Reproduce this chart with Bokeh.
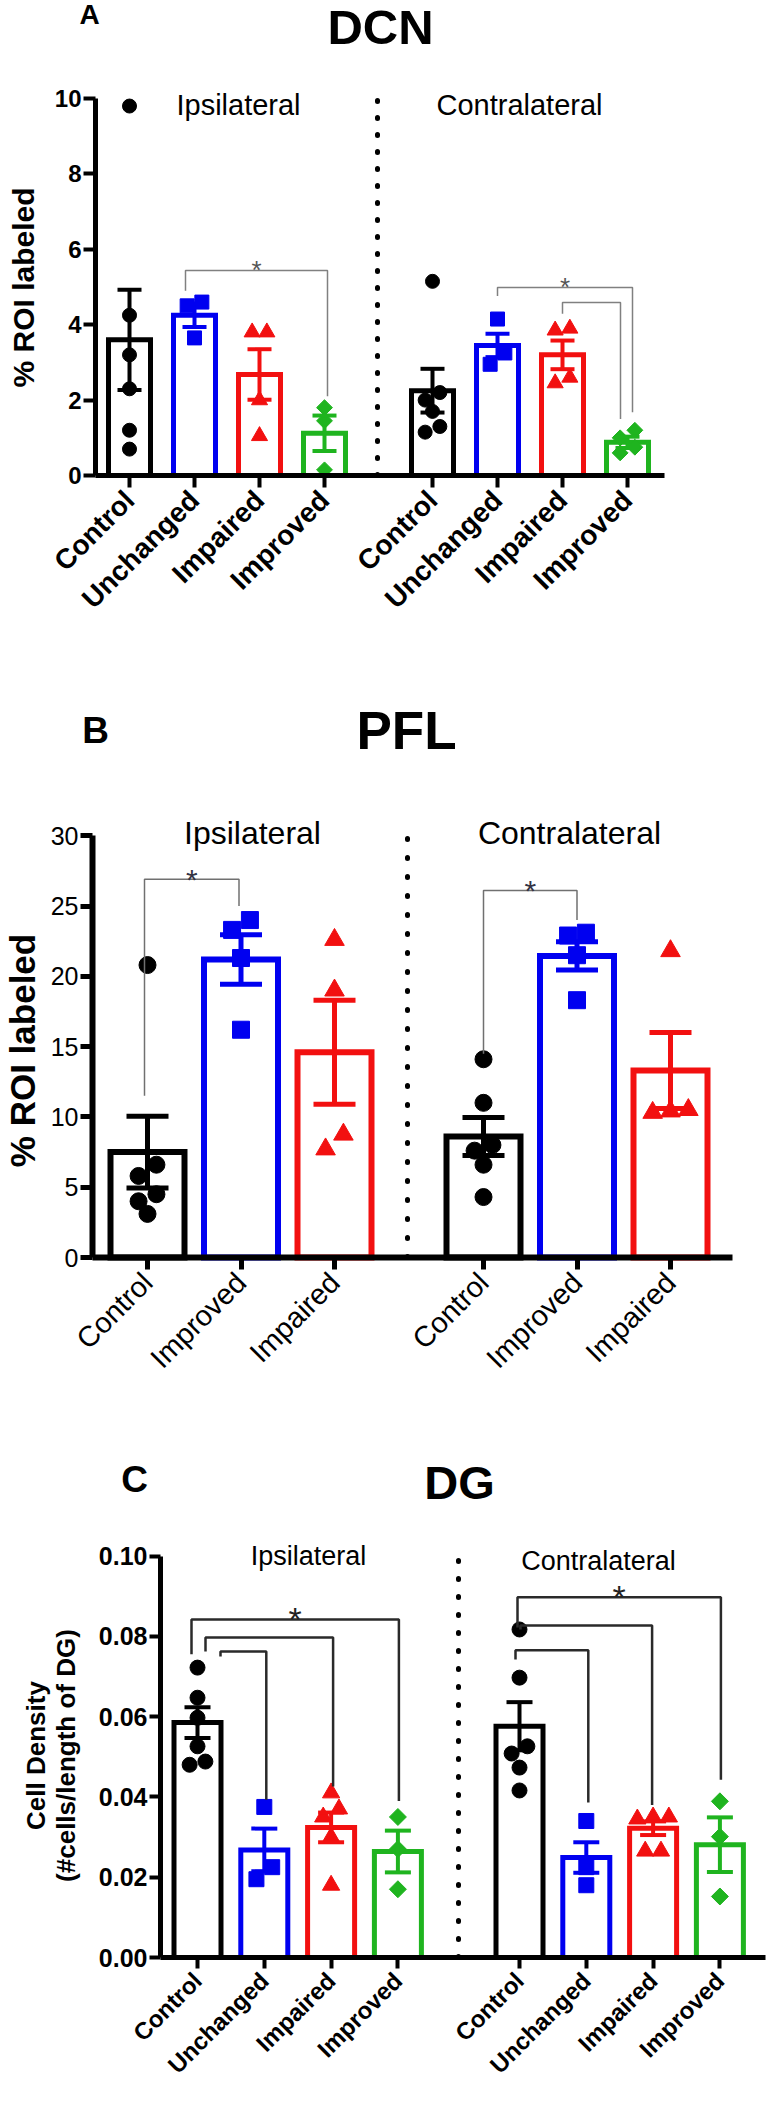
import math
from bokeh.plotting import figure
from bokeh.models import (Range1d, FixedTicker, Label, Whisker, TeeHead,
                          ColumnDataSource, CustomJSTickFormatter, NumeralTickFormatter)
from bokeh.layouts import column
from bokeh.embed import file_html
from bokeh.resources import INLINE
from bokeh.core.properties import value

FONT = "Liberation Sans"

# ---------------------------------------------------------------- DATA
# Panel A : DCN
dcn_title = "DCN"
dcn_groups = ["Control", "Unchanged", "Impaired", "Improved"]
dcn_ipsi_mean = [3.6, 4.25, 2.68, 1.12]
dcn_ipsi_sem = [1.33, 0.31, 0.67, 0.47]
dcn_ipsi_points = [[9.8, 4.25, 3.2, 2.3, 1.2, 0.7],
                   [4.6, 4.5, 3.65],
                   [3.8, 3.8, 2.0, 1.05],
                   [1.8, 1.45, 0.15]]
dcn_contra_mean = [2.25, 3.45, 3.2, 0.88]
dcn_contra_sem = [0.58, 0.31, 0.38, 0.15]
dcn_contra_points = [[5.15, 2.2, 2.0, 1.7, 1.3, 1.15],
                     [4.15, 3.25, 2.95],
                     [3.9, 3.85, 2.6, 2.45],
                     [1.2, 1.0, 0.75, 0.6]]
dcn_yticks = [0, 2, 4, 6, 8, 10]
# (side, from group, to group, bracket top, left leg end, right leg end)
dcn_brackets = [("ipsi", 1, 3, 5.44, 4.9, 2.1),
                ("contra", 1, 3, 4.99, 4.76, 1.68),
                ("contra", 2, 3, 4.59, 4.29, 1.50)]
dcn_stars = [0, 1]  # brackets carrying an asterisk

# Panel B : PFL
pfl_title = "PFL"
pfl_groups = ["Control", "Improved", "Impaired"]
pfl_ipsi_mean = [7.5, 21.2, 14.6]
pfl_ipsi_sem = [2.55, 1.76, 3.7]
pfl_ipsi_points = [[20.8, 6.6, 5.8, 4.5, 4.0, 3.1],
                   [24.0, 23.3, 21.3, 16.2],
                   [22.6, 19.0, 8.75, 7.7]]
pfl_contra_mean = [8.6, 21.45, 13.3]
pfl_contra_sem = [1.35, 1.0, 2.7]
pfl_contra_points = [[14.1, 11.0, 8.0, 7.6, 6.6, 4.3],
                     [23.1, 22.9, 21.5, 18.3],
                     [21.8, 10.5, 10.4, 10.3]]
pfl_yticks = [0, 5, 10, 15, 20, 25, 30]
pfl_brackets = [("ipsi", 0, 1, 26.9, 11.5, 25.0),
                ("contra", 0, 1, 26.1, 14.5, 24.0)]
pfl_stars = [0, 1]

# Panel C : DG
dg_title = "DG"
dg_groups = ["Control", "Unchanged", "Impaired", "Improved"]
dg_ipsi_mean = [0.0585, 0.0268, 0.0324, 0.0264]
dg_ipsi_sem = [0.0038, 0.0053, 0.0037, 0.0052]
dg_ipsi_points = [[0.0722, 0.0647, 0.0597, 0.0526, 0.0488, 0.048],
                  [0.0375, 0.0225, 0.0195],
                  [0.041, 0.037, 0.035, 0.030, 0.018],
                  [0.035, 0.027, 0.017]]
dg_contra_mean = [0.0576, 0.0249, 0.0322, 0.0281]
dg_contra_sem = [0.0060, 0.0038, 0.0017, 0.0068]
dg_contra_points = [[0.0817, 0.0697, 0.0526, 0.0508, 0.0473, 0.0416],
                    [0.034, 0.0225, 0.018],
                    [0.035, 0.035, 0.0345, 0.0265, 0.0265],
                    [0.0389, 0.0301, 0.0152]]
dg_yticks = [0.0, 0.02, 0.04, 0.06, 0.08, 0.10]
dg_brackets = [("ipsi", 0, 3, 0.0842, 0.0755, 0.039),
               ("ipsi", 0, 2, 0.0797, 0.0762, 0.0426),
               ("ipsi", 0, 1, 0.0762, 0.0750, 0.0393),
               ("contra", 0, 3, 0.0897, 0.0822, 0.0443),
               ("contra", 0, 2, 0.0827, 0.0817, 0.038),
               ("contra", 0, 1, 0.0765, 0.0742, 0.0386)]
dg_stars = [0, 3]

side_names = ["Ipsilateral", "Contralateral"]
ylabel_roi = "% ROI labeled"
ylabel_dg = ["Cell Density", "(#cells/length of DG)"]

# ---------------------------------------------------------------- STYLE / LAYOUT
BLACK, BLUE, RED, GREEN = "#000000", "#0000f0", "#f21010", "#1fb41f"
W = 766

LA = dict(top=8, height=672, axis_x=103, base_y=483, ppu=37.7, c1=137, ppx=65.0, c_contra=440,
          x_right=672, sep_x=385, bar_outer=47, bar_lw=5, err_lw=4, cap=24, msize=14, axw=5,
          tick_out=12, dot_w=5, dot_dash="1 16", br_color="#808080", br_w=1.5,
          star_size=26, star_color="#555555",
          colors=[BLACK, BLUE, RED, GREEN], markers=["circle", "square", "triangle", "diamond"],
          xlab=dict(size=28, style="bold", standoff=8), ylab=dict(size=24, style="bold"), yfmt=None,
          br_shift=[(-9, 3), (0, 5), (0, -7)],
          texts=[("A", 97, 22, 28, "bold", 0), (dcn_title, 388, 34, 49, "bold", 0),
                 (side_names[0], 246, 112, 29, "normal", 0), (side_names[1], 527, 112, 29, "normal", 0),
                 (ylabel_roi, 31, 295, 30, "bold", 90)])

LB = dict(top=680, height=730, axis_x=100, base_y=1265, ppu=14.06, c1=155, ppx=93.5, c_contra=491,
          x_right=740, sep_x=415, bar_outer=80, bar_lw=6, err_lw=5, cap=42, msize=17, axw=6,
          tick_out=12, dot_w=5, dot_dash="1 18", br_color="#707070", br_w=1.5,
          star_size=30, star_color="#333344",
          colors=[BLACK, BLUE, RED], markers=["circle", "square", "triangle"],
          xlab=dict(size=29, style="normal", standoff=8), ylab=dict(size=25, style="normal"), yfmt=None,
          br_shift=[(-3, -2), (0, 0)],
          texts=[("B", 103, 738, 37, "bold", 0), (pfl_title, 414, 738, 53, "bold", 0),
                 (side_names[0], 260, 840, 32, "normal", 0), (side_names[1], 577, 840, 32, "normal", 0),
                 (ylabel_roi, 30, 1058, 35, "bold", 90)])

LC = dict(top=1410, height=683, axis_x=168, base_y=1965, ppu=4015.0, c1=205, ppx=66.8, c_contra=527,
          x_right=773, sep_x=466, bar_outer=52, bar_lw=5, err_lw=4, cap=26, msize=15, axw=5,
          tick_out=11, dot_w=5, dot_dash="1 17", br_color="#2a2a2a", br_w=2.5,
          star_size=34, star_color="#222222",
          colors=[BLACK, BLUE, RED, GREEN], markers=["circle", "square", "triangle", "diamond"],
          xlab=dict(size=24, style="bold", standoff=8), ylab=dict(size=25, style="bold"), yfmt="0.00",
          br_shift=[(-6, 1), (8, 2), (23, 2), (-2, 1), (1, -1), (-4, 2)],
          texts=[("C", 142, 1487, 37, "bold", 0), (dg_title, 467, 1490, 47, "bold", 0),
                 (side_names[0], 316, 1563, 27, "normal", 0), (side_names[1], 606, 1568, 27, "normal", 0),
                 (ylabel_dg[0], 43, 1763, 26, "bold", 90), (ylabel_dg[1], 73, 1763, 26, "bold", 90)])


def swarm(vals, ppu, ppx, diam):
    """GraphPad-like scatter: points closer than one marker (vertically) are
    grouped into a row and spread symmetrically about the bar centre."""
    order = sorted(range(len(vals)), key=lambda k: -vals[k])
    rows, res = [], [0.0] * len(vals)
    for k in order:
        if rows and (vals[rows[-1][0]] - vals[k]) * ppu < diam * 0.9:
            rows[-1].append(k)
        else:
            rows.append([k])
    for row in rows:
        row = sorted(row, key=lambda k: vals[k])
        m = len(row)
        for j, k in enumerate(row):
            res[k] = (j - (m - 1) / 2) * diam * 1.05 / ppx
    return res


def build(groups, means, sems, points, yticks, brackets, stars, L):
    H = L["height"]

    def X(px):  # page pixel -> data x
        return 1 + (px - L["c1"]) / L["ppx"]

    def Y(py):  # page pixel -> data y
        return (L["base_y"] - py) / L["ppu"]

    # the frame covers the whole figure; axes are pinned with fixed_location
    p = figure(width=W, height=H, output_backend="svg", toolbar_location=None,
               x_range=Range1d(X(8), X(8 + W)), y_range=Range1d(Y(L["top"] + H), Y(L["top"])),
               min_border=0, min_border_left=0, min_border_right=0,
               min_border_top=0, min_border_bottom=0)
    p.outline_line_color = None
    p.grid.visible = False

    n = len(groups)
    xpos = {"ipsi": [1.0 + i for i in range(n)],
            "contra": [X(L["c_contra"]) + i for i in range(n)]}

    bw = (L["bar_outer"] - L["bar_lw"]) / L["ppx"]
    for si, side in enumerate(["ipsi", "contra"]):
        xs = xpos[side]
        p.vbar(x=xs, top=means[si], width=bw, bottom=0, fill_color="white",
               line_color=L["colors"], line_width=L["bar_lw"], line_join="miter")
        for i, g in enumerate(groups):
            col = L["colors"][i]
            pts = points[si][i]
            offs = swarm(pts, L["ppu"], L["ppx"], L["msize"])
            px = [xs[i] + o for o in offs]
            m = L["markers"][i]
            if m == "diamond":
                p.scatter(px, pts, marker="square", angle=math.pi / 4, size=L["msize"] * 0.8, color=col)
            elif m == "triangle":
                p.scatter(px, pts, marker="triangle", size=L["msize"] * 1.15, color=col)
            else:
                p.scatter(px, pts, marker=m, size=L["msize"], color=col)
            mu, se = means[si][i], sems[si][i]
            src = ColumnDataSource(dict(base=[xs[i]], upper=[mu + se], lower=[mu - se]))
            p.add_layout(Whisker(source=src, base="base", upper="upper", lower="lower",
                                 level="annotation", line_color=col, line_width=L["err_lw"],
                                 upper_head=TeeHead(size=L["cap"], line_color=col, line_width=L["err_lw"]),
                                 lower_head=TeeHead(size=L["cap"], line_color=col, line_width=L["err_lw"])))

    # dotted separator between ipsi- and contralateral
    sx = X(L["sep_x"])
    p.segment(x0=[sx], y0=[0], x1=[sx], y1=[yticks[-1]], line_color="black",
              line_width=L["dot_w"], line_dash=L["dot_dash"], line_cap="round")

    # significance brackets
    bxs, bys = [], []
    for k, (side, a, b, top, le, re) in enumerate(brackets):
        dl, dr = L["br_shift"][k]
        xl = xpos[side][a] + dl / L["ppx"]
        xr = xpos[side][b] + dr / L["ppx"]
        bxs.append([xl, xl, xr, xr])
        bys.append([le, top, top, re])
    p.multi_line(bxs, bys, line_color=L["br_color"], line_width=L["br_w"])
    sxs = [(bxs[k][0] + bxs[k][2]) / 2 for k in stars]
    sys_ = [brackets[k][3] for k in stars]
    p.text(x=sxs, y=sys_, text=["*"] * len(stars), text_align="center", text_baseline="alphabetic",
           text_font=value(FONT), text_font_size=f'{L["star_size"]}px', text_color=L["star_color"])

    # axes (pinned inside the full-size frame)
    xall = xpos["ipsi"] + xpos["contra"]
    xa = p.xaxis[0]
    xa.fixed_location = 0
    xa.bounds = (X(L["axis_x"]), X(L["x_right"]))
    xa.ticker = FixedTicker(ticks=xall)
    xa.formatter = CustomJSTickFormatter(args=dict(labels=list(groups) + list(groups)),
                                         code="return labels[index];")
    xa.major_label_orientation = math.pi / 4
    xa.major_label_text_font = FONT
    xa.major_label_text_font_size = f'{L["xlab"]["size"]}px'
    xa.major_label_text_font_style = L["xlab"]["style"]
    xa.major_label_text_color = "black"
    xa.major_label_standoff = L["xlab"]["standoff"]

    ya = p.yaxis[0]
    ya.fixed_location = X(L["axis_x"])
    ya.ticker = FixedTicker(ticks=yticks)
    ya.bounds = (0, yticks[-1])
    if L["yfmt"]:
        ya.formatter = NumeralTickFormatter(format=L["yfmt"])
    ya.major_label_text_font = FONT
    ya.major_label_text_font_size = f'{L["ylab"]["size"]}px'
    ya.major_label_text_font_style = L["ylab"]["style"]
    ya.major_label_text_color = "black"
    ya.major_label_standoff = 2

    for ax in (xa, ya):
        ax.axis_line_width = L["axw"]
        ax.axis_line_color = "black"
        ax.major_tick_line_width = L["axw"] - 1
        ax.major_tick_line_color = "black"
        ax.major_tick_out = L["tick_out"]
        ax.major_tick_in = 0
        ax.minor_tick_line_color = None

    # titles, panel letters, side names, y label
    for (txt, px, py, size, style, ang) in L["texts"]:
        p.add_layout(Label(x=X(px), y=Y(py), text=txt, text_font=FONT, text_font_size=f"{size}px",
                           text_font_style=style, text_align="center", text_baseline="middle",
                           angle=math.radians(ang), text_color="black"))
    return p


pA = build(dcn_groups, [dcn_ipsi_mean, dcn_contra_mean], [dcn_ipsi_sem, dcn_contra_sem],
           [dcn_ipsi_points, dcn_contra_points], dcn_yticks, dcn_brackets, dcn_stars, LA)
pB = build(pfl_groups, [pfl_ipsi_mean, pfl_contra_mean], [pfl_ipsi_sem, pfl_contra_sem],
           [pfl_ipsi_points, pfl_contra_points], pfl_yticks, pfl_brackets, pfl_stars, LB)
pC = build(dg_groups, [dg_ipsi_mean, dg_contra_mean], [dg_ipsi_sem, dg_contra_sem],
           [dg_ipsi_points, dg_contra_points], dg_yticks, dg_brackets, dg_stars, LC)

layout = column(pA, pB, pC, spacing=0)
open("out.html", "w").write(file_html(layout, INLINE))
